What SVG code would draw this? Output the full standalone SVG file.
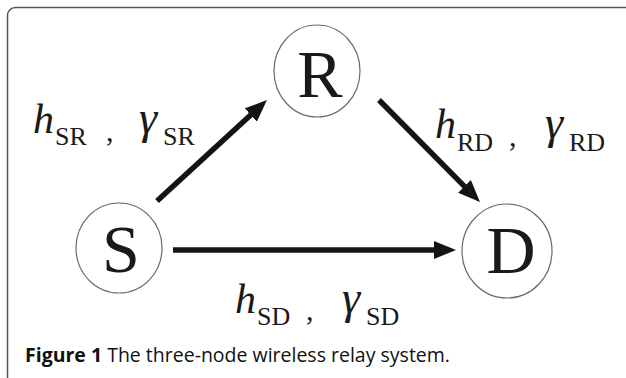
<svg xmlns="http://www.w3.org/2000/svg" width="626" height="378" viewBox="0 0 626 378">
  <style>
    .node ellipse { fill: #ffffff; stroke: #6a6a6a; stroke-width: 1.2; }
    .node text { font-family: "Liberation Serif", "DejaVu Serif", serif; font-size: 68px; fill: #1a1a1a; text-anchor: middle; }
    .edge { stroke: #141414; stroke-width: 5.5; fill: none; }
    .lbl { font-family: "Liberation Serif", "DejaVu Serif", serif; fill: #1a1a1a; }
    .it { font-style: italic; font-size: 42px; }
    .g { font-style: italic; font-size: 46px; }
    .sub { font-size: 26px; }
    .cm { font-size: 30px; }
    .cap { font-family: "Open Sans", "Noto Sans", sans-serif; font-size: 19.5px; fill: #111; }
  </style>
  <defs>
    <marker id="ah" markerWidth="22" markerHeight="18" refX="1" refY="9" orient="auto" markerUnits="userSpaceOnUse">
      <path d="M0,0 L22,9 L0,18 Z" fill="#141414"/>
    </marker>
  </defs>
  <rect x="7.5" y="7.5" width="640" height="380" rx="8" ry="8" fill="#ffffff" stroke="#555" stroke-width="1.5"/>

  <g id="connectors">
    <line class="edge" x1="157" y1="201" x2="251.5" y2="114.3" marker-end="url(#ah)"/>
    <line class="edge" x1="379" y1="100" x2="465.2" y2="187.1" marker-end="url(#ah)"/>
    <line class="edge" x1="173" y1="250" x2="435" y2="250" marker-end="url(#ah)"/>
  </g>

  <g id="node-R" class="node">
    <ellipse cx="317" cy="71" rx="43" ry="46"/>
    <text x="320" y="97">R</text>
  </g>
  <g id="node-S" class="node">
    <ellipse cx="119" cy="248" rx="43" ry="45"/>
    <text x="121" y="272">S</text>
  </g>
  <g id="node-D" class="node">
    <ellipse cx="507" cy="251" rx="45" ry="47"/>
    <text x="511" y="273">D</text>
  </g>

  <g id="label-SR" class="lbl">
    <text x="33" y="133" class="it">h</text>
    <text x="55" y="145" class="sub">SR</text>
    <text x="106" y="141" class="cm">,</text>
    <text x="139" y="133" class="g">γ</text>
    <text x="163" y="145" class="sub">SR</text>
  </g>
  <g id="label-RD" class="lbl">
    <text x="435" y="138" class="it">h</text>
    <text x="457" y="151" class="sub">RD</text>
    <text x="509" y="146" class="cm">,</text>
    <text x="545" y="138" class="g">γ</text>
    <text x="569" y="151" class="sub">RD</text>
  </g>
  <g id="label-SD" class="lbl">
    <text x="235" y="313" class="it">h</text>
    <text x="257" y="325" class="sub">SD</text>
    <text x="306" y="320" class="cm">,</text>
    <text x="342" y="313" class="g">γ</text>
    <text x="366" y="325" class="sub">SD</text>
  </g>

  <text class="cap" x="25" y="362"><tspan font-weight="bold">Figure 1</tspan> The three-node wireless relay system.</text>
</svg>
